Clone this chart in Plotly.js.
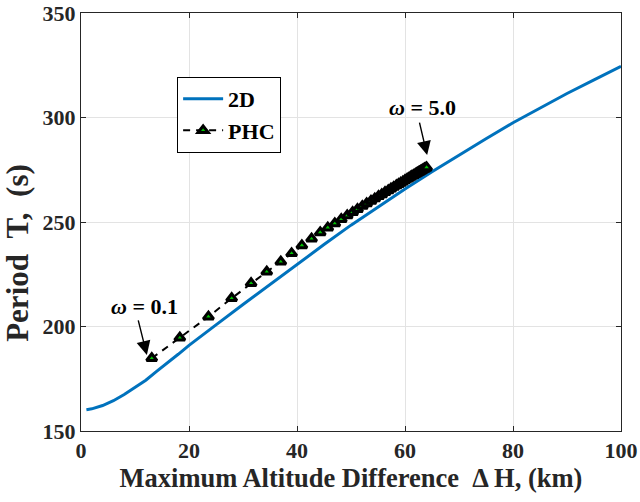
<!DOCTYPE html>
<html>
<head>
<meta charset="utf-8">
<script src="https://cdn.plot.ly/plotly-3.0.1.min.js"></script>
<style>html,body{margin:0;padding:0;background:#fff;}#chart{width:640px;height:502px;}</style>
</head>
<body>
<div id="chart"></div>
<script>
// 2D curve
var x2D = [1, 2, 4, 6, 8, 10, 12, 14, 16, 18, 20, 22, 25, 30, 35, 40, 45, 50, 55, 60, 65, 70, 75, 80, 85, 90, 95, 100];
var y2D = [160.2, 160.6, 162.2, 164.5, 167.5, 170.8, 174.3, 178.5, 182.5, 186.7, 191, 195, 200.8, 210.5, 220.2, 229.8, 239.2, 248.5, 257.3, 265.8, 274, 282, 289.8, 297.5, 304.6, 311.5, 318, 324.5];

// PHC points (omega = 0.1 ... 5.0)
var xPHC = [13.1, 18.3, 23.6, 27.9, 31.5, 34.4, 37.0, 39.0, 40.9, 42.7, 44.3, 45.7, 47.0, 48.2, 49.3, 50.3, 51.2, 52.1, 52.9, 53.7, 54.4, 55.1, 55.7, 56.3, 56.9, 57.4, 57.9, 58.4, 58.8, 59.2, 59.6, 60.0, 60.4, 60.7, 61.0, 61.3, 61.6, 61.9, 62.1, 62.3, 62.5, 62.7, 62.9, 63.1, 63.3, 63.5, 63.6, 63.7, 63.9, 64.0];
var yPHC = [184.8, 194.6, 204.7, 213.5, 220.7, 226.2, 231.0, 235.0, 238.8, 242.0, 245.0, 247.3, 249.3, 251.3, 253.1, 254.7, 256.1, 257.6, 258.9, 260.1, 261.2, 262.3, 263.2, 264.2, 265.1, 265.9, 266.7, 267.5, 268.1, 268.7, 269.3, 270.0, 270.6, 271.0, 271.5, 272.0, 272.4, 272.9, 273.2, 273.5, 273.8, 274.1, 274.4, 274.7, 275.0, 275.3, 275.5, 275.6, 275.9, 276.1];

var xTicks = [0, 20, 40, 60, 80, 100];
var yTicks = [150, 200, 250, 300, 350];
var seriesNames = ['<b>2D</b>', '<b>PHC</b>'];
var labelTexts = ['<b><i>ω</i> = 0.1</b>', '<b><i>ω</i> = 5.0</b>'];
var xTitle = 'Maximum Altitude Difference\u00A0\u00A0Δ H, (km)';
var yTitle = 'Period\u00A0\u00A0T,\u00A0\u00A0(s)\u00A0\u00A0\u00A0\u00A0\u00A0\u00A0\u00A0\u00A0';

var F = 'Times New Roman, serif';

var traces = [
  {x: x2D, y: y2D, mode: 'lines', name: seriesNames[0],
   line: {color: '#0072BD', width: 3}},
  {x: xPHC, y: yPHC, mode: 'lines+markers', name: seriesNames[1],
   line: {color: '#000000', width: 2, dash: '7px,6px'},
   marker: {symbol: 'triangle-up', size: 9, color: '#00c000', line: {color: '#000000', width: 3}}}
];

var axisCommon = {
  showline: true, linecolor: '#262626', linewidth: 1, mirror: 'ticks',
  ticks: 'inside', ticklen: 5, tickcolor: '#262626', tickwidth: 1,
  showgrid: true, gridcolor: '#e3e3e3', gridwidth: 1, zeroline: false,
  tickfont: {family: F, size: 22, color: '#262626'}
};

var layout = {
  width: 640, height: 502,
  margin: {l: 81, r: 19, t: 13, b: 71},
  paper_bgcolor: '#ffffff', plot_bgcolor: '#ffffff',
  font: {family: F},
  showlegend: true,
  legend: {x: 0.178, y: 0.847, xanchor: 'left', yanchor: 'top',
           bgcolor: '#ffffff', bordercolor: '#000000', borderwidth: 1,
           font: {family: F, size: 22, color: '#000000'},
           tracegroupgap: 0, itemwidth: 40},
  xaxis: Object.assign({}, axisCommon, {
    range: [0, 100], tickvals: xTicks, ticktext: xTicks.map(function (v) { return '<b>' + v + '</b>'; }),
    title: {text: '<b>' + xTitle + '</b>', standoff: 6,
            font: {family: F, size: 26.5, color: '#262626'}}
  }),
  yaxis: Object.assign({}, axisCommon, {
    range: [150, 350], tickvals: yTicks, ticktext: yTicks.map(function (v) { return '<b>' + v + '</b>'; }),
    title: {text: '<b>' + yTitle + '</b>', standoff: 6,
            font: {family: F, size: 31, color: '#262626'}}
  }),
  annotations: [
    {x: 11.7, y: 209.5, xref: 'x', yref: 'y', text: labelTexts[0], showarrow: false,
     font: {family: F, size: 22, color: '#000000'}},
    {x: 63.3, y: 305, xref: 'x', yref: 'y', text: labelTexts[1], showarrow: false,
     font: {family: F, size: 22, color: '#000000'}},
    {x: 12.2, y: 186.4, xref: 'x', yref: 'y', text: '', showarrow: true,
     ax: -9, ay: -36, arrowhead: 2, arrowsize: 2, arrowwidth: 1.4, arrowcolor: '#000000', standoff: 0},
    {x: 64.1, y: 282, xref: 'x', yref: 'y', text: '', showarrow: true,
     ax: -8, ay: -34, arrowhead: 2, arrowsize: 2, arrowwidth: 1.4, arrowcolor: '#000000', standoff: 0}
  ]
};

Plotly.newPlot('chart', traces, layout, {displayModeBar: false, staticPlot: true});
</script>
</body>
</html>
